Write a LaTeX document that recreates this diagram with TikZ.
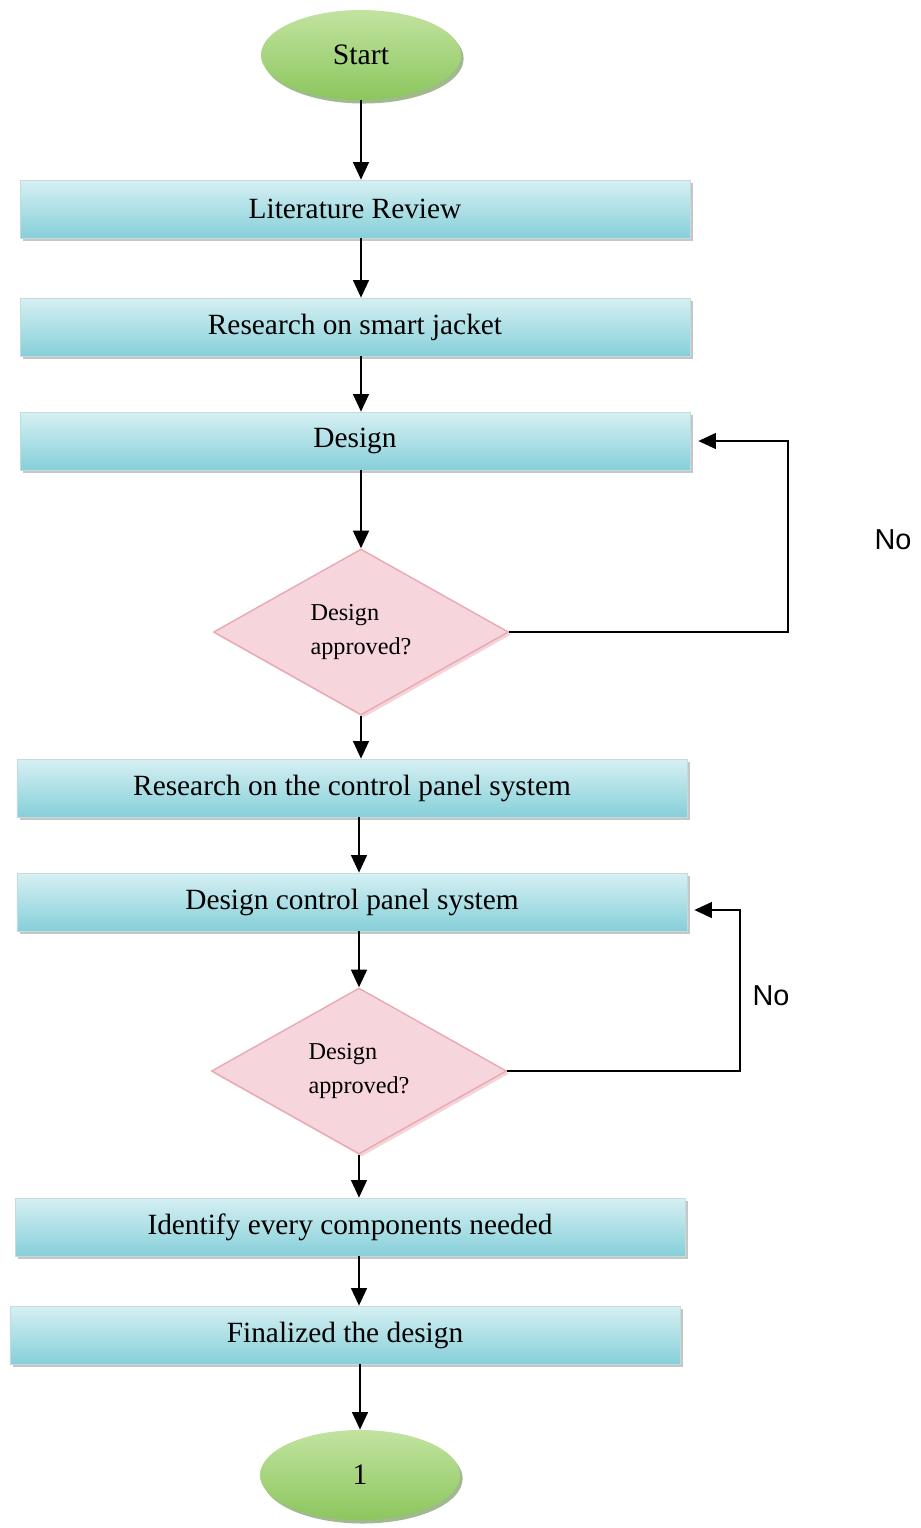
\documentclass[tikz,border=0pt]{standalone}
\usepackage{fontspec}
\setmainfont{Liberation Serif}
\newfontfamily\labelfont{Liberation Sans}
\usepackage{tikz}
\usetikzlibrary{shapes.geometric, shadows, arrows.meta}
\definecolor{boxtop}{HTML}{D6F0F3}
\definecolor{boxbot}{HTML}{86CFD9}
\definecolor{pinkfill}{HTML}{F6D6DC}
\definecolor{pinkline}{HTML}{E9A9B1}
\definecolor{greentop}{HTML}{C2E3A0}
\definecolor{greenbot}{HTML}{8CC65E}
\tikzset{stepbox/.style={rectangle, minimum width=13.4cm, minimum height=1.16cm,
    top color=boxtop, bottom color=boxbot, draw=boxbot!80!black!40,
    drop shadow={shadow xshift=1.5pt, shadow yshift=-1.5pt, fill=gray, opacity=0.45},
    font=\fontsize{16.7}{20}\selectfont},
  decisionnode/.style={diamond, aspect=1.78, minimum width=5.9cm, minimum height=3.32cm,
    inner sep=0pt, fill=pinkfill, draw=pinkline, line width=0.8pt,
    drop shadow={shadow xshift=1.5pt, shadow yshift=-1.5pt, fill=pinkline, opacity=0.5},
    align=left, font=\fontsize{13.8}{19.5}\selectfont},
  terminalnode/.style={ellipse, minimum width=4cm, minimum height=1.8cm,
    top color=greentop, bottom color=greenbot, draw=none,
    drop shadow={shadow xshift=1.5pt, shadow yshift=-2pt, fill=greenbot!70!black, opacity=0.6},
    font=\fontsize{16.9}{20}\selectfont},
  nolabel/.style={font=\labelfont\fontsize{16.4}{19}\selectfont},
  flowline/.style={line width=1.1pt, -{Triangle[length=10pt, width=9pt]}}}
\begin{document}
\begin{tikzpicture}

\useasboundingbox (0,0) rectangle (18.42,-30.56);

% nodes

\node [style = terminalnode] (start) at (7.22, -1.10) {Start};
\node [style = stepbox] (lit) at (7.10, -4.18) {Literature Review};
\node [style = stepbox] (smart) at (7.10, -6.54) {Research on smart jacket};
\node [style = stepbox] (design) at (7.10, -8.82) {Design};
\node [style = decisionnode] (appr1) at (7.22, -12.64) {Design\\approved?};
\node [style = stepbox] (panel) at (7.04, -15.76) {Research on the control panel system};
\node [style = stepbox] (dpanel) at (7.04, -18.04) {Design control panel system};
\node [style = decisionnode] (appr2) at (7.18, -21.42) {Design\\approved?};
\node [style = stepbox] (ident) at (7.00, -24.54) {Identify every components needed};
\node [style = stepbox] (final) at (6.90, -26.70) {Finalized the design};
\node [style = terminalnode] (stop) at (7.20, -29.50) {1};

\coordinate (loopa) at (15.76, -8.82);
\coordinate (loopb) at (14.80, -18.20);

\node [style = nolabel] (noa) at (17.86, -10.80) {No};
\node [style = nolabel] (nob) at (15.42, -19.92) {No};

%  edges
\draw [style = flowline] (start) -- (start |- lit.north);
\draw [style = flowline] (start |- lit.south) -- (start |- smart.north);
\draw [style = flowline] (start |- smart.south) -- (start |- design.north);
\draw [style = flowline] (appr1 |- design.south) -- (appr1.north);
\draw [style = flowline] (appr1.south) -- (appr1 |- panel.north);
\draw [style = flowline] (appr2 |- panel.south) -- (appr2 |- dpanel.north);
\draw [style = flowline] (appr2 |- dpanel.south) -- (appr2.north);
\draw [style = flowline] (appr2.south) -- (appr2 |- ident.north);
\draw [style = flowline] (appr2 |- ident.south) -- (appr2 |- final.north);
\draw [style = flowline] (stop |- final.south) -- (stop.north);

\draw [style = flowline] (appr1.east) -| (loopa) -- ([xshift=0.16cm]design.east);
\draw [style = flowline] (appr2.east) -| (loopb) -- ([xshift=0.14cm]loopb -| dpanel.east);

\end{tikzpicture}
\end{document}
